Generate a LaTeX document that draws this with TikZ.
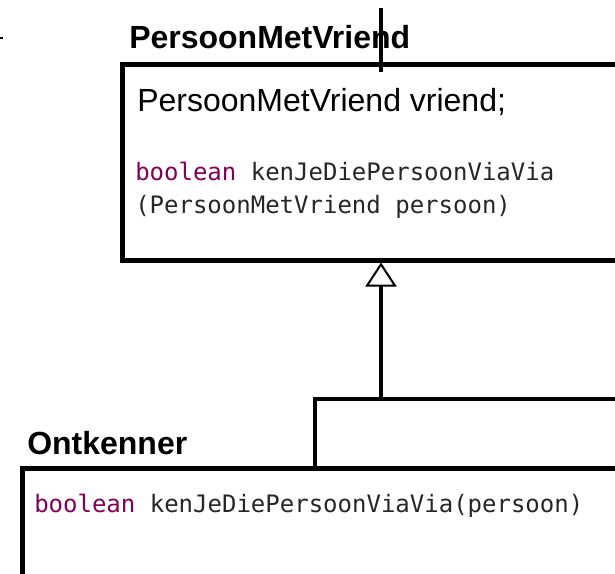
\documentclass[tikz,border=0pt]{standalone}
\usepackage{fontspec}
\setmainfont{Liberation Sans}
\newfontfamily\codefont{DejaVu Sans Mono}
\usepackage{xcolor}
\usetikzlibrary{arrows.meta, positioning}
\definecolor{keyword}{HTML}{7F0055}
\def\lw{4.5pt}
\newcommand{\kw}[1]{\textcolor{keyword}{#1}}

\begin{document}
\begin{tikzpicture}[
    x=1pt, y=-1pt,
    line width=\lw,
    classbox/.style={draw, rectangle, anchor=north west, inner sep=0pt},
    classname/.style={anchor=base west, inner sep=0pt, font=\fontsize{32}{38}\selectfont\bfseries},
    attr/.style={anchor=base west, inner sep=0pt, font=\fontsize{32}{38}\selectfont},
    code/.style={anchor=base west, inner sep=0pt, text=black!85, font=\fontsize{24}{33}\selectfont\codefont},
    inherit/.style={-{Triangle[open, length=24pt, width=31pt, line width=2pt]}}
]
\useasboundingbox (0,0) rectangle (615,573);
\clip (0,0) rectangle (615,573);

% superclass
\node[classbox, minimum width=540pt, minimum height=196pt] (pmv) at (120,62) {};
\node[classname] (pmvname) at (127,48) {PersoonMetVriend};
\node[attr] (vriend) at (135,111) {PersoonMetVriend vriend;};
\node[code] (viavia) at (133,180) {\kw{boolean} kenJeDiePersoonViaVia};
\node[code] (viaviaarg) at (133,213) {(PersoonMetVriend persoon)};

% subclass
\node[classbox, minimum width=640pt, minimum height=160pt] (ont) at (20,466) {};
\node[classname] (ontname) at (25,454) {Ontkenner};
\node[code] (ontviavia) at (32,512) {\kw{boolean} kenJeDiePersoonViaVia(persoon)};

% generalisation, shared line runs on to the right
\coordinate (fork) at (381,399);
\coordinate (rest) at (640,399);
\draw[inherit] (fork) -- (pmv.south -| fork);
\draw ([xshift=295pt]ont.north west) |- (fork) -- (rest);

% line coming in from above
\coordinate (feed) at (381,8);
\draw (feed) -- ++(0,64);

\coordinate (tick) at (0,38);
\draw[line width=2pt] (tick) -- ++(3,0);
\end{tikzpicture}
\end{document}
